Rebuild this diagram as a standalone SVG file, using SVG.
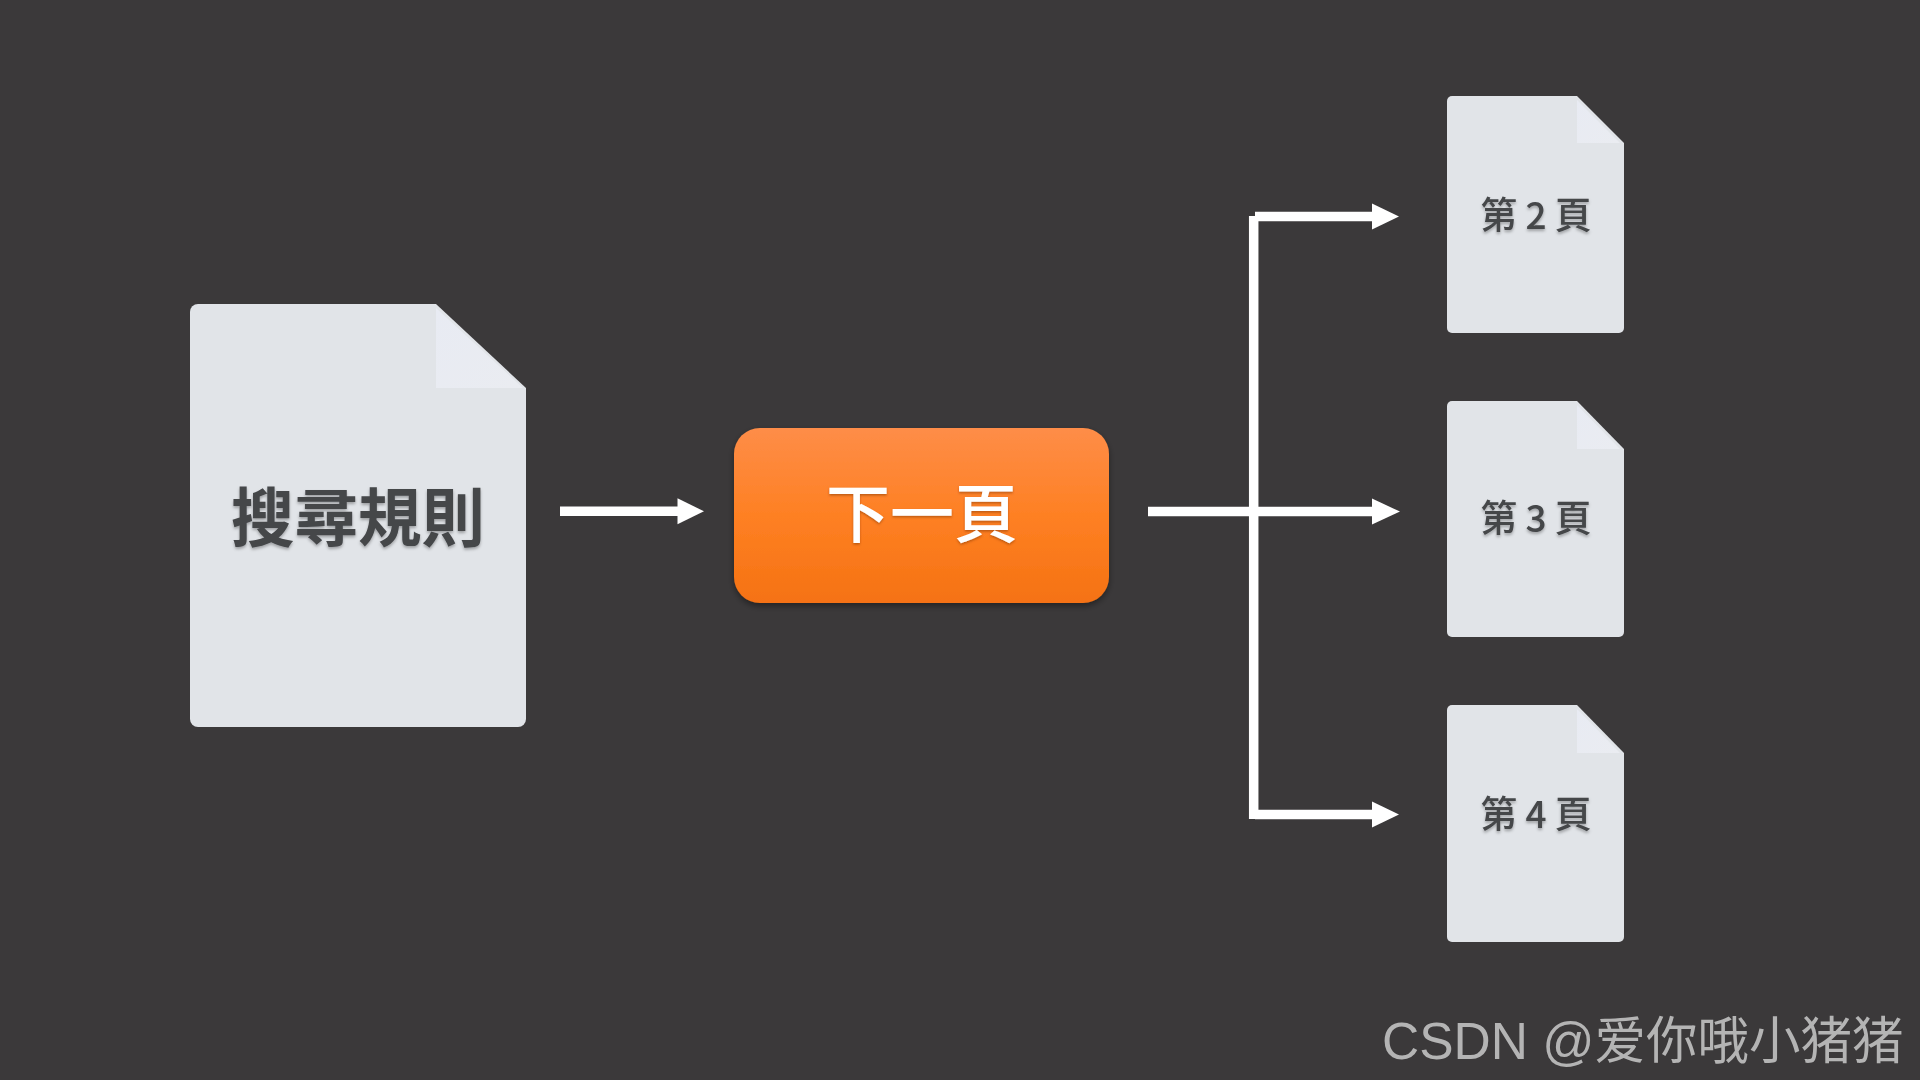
<svg xmlns="http://www.w3.org/2000/svg" width="1920" height="1080" viewBox="0 0 1920 1080">
<style>
.cjk{font-family:"Noto Sans CJK TC","Noto Sans CJK SC",sans-serif;text-anchor:middle}
.big{font-size:63.500px;font-weight:700;fill:#45474a;filter:url(#ts)}
.small{font-size:37px;font-weight:500;fill:#45474a;filter:url(#ts)}
.btn{font-size:64px;font-weight:500;fill:#fff;filter:url(#ts2)}
.wire{fill:none;stroke:#fff;stroke-width:9.500}
.page{fill:#e1e4e8}
.fold{fill:url(#foldg)}
</style>
<defs>
<linearGradient id="foldg" x1="0" y1="0" x2="1" y2="1"><stop offset="0" stop-color="#e8ebf3"/><stop offset="1" stop-color="#eaecf1"/></linearGradient>
<linearGradient id="org" x1="0" y1="0" x2="0" y2="1"><stop offset="0" stop-color="#fe8d48"/><stop offset=".5" stop-color="#fe8023"/><stop offset="1" stop-color="#f57213"/></linearGradient>
<filter id="ts" x="-10%" y="-10%" width="120%" height="130%"><feDropShadow dx="0" dy="2" stdDeviation="1.500" flood-color="#000" flood-opacity=".3"/></filter>
<filter id="ts2" x="-10%" y="-10%" width="120%" height="130%"><feDropShadow dx="0" dy="1.500" stdDeviation="1" flood-color="#7a3000" flood-opacity=".5"/></filter>
<filter id="bs" x="-10%" y="-10%" width="120%" height="125%"><feDropShadow dx="0" dy="3" stdDeviation="3" flood-color="#000" flood-opacity=".4"/></filter>
</defs>
<rect width="1920" height="1080" fill="#3b393a"/>
<g id="connectors">
<path class="wire" d="M560 511.300H678"/>
<path class="wire" d="M1148 511.600H1372"/>
<path class="wire" d="M1253.700 216V819"/>
<path class="wire" d="M1255 216.600H1372"/>
<path class="wire" d="M1255 814.600H1372"/>
<path fill="#fff" d="M677.500 498.300L704 511.300L677.500 524.300Z"/>
<path fill="#fff" d="M1372 498.600L1400 511.600L1372 524.600Z"/>
<path fill="#fff" d="M1372 203.600L1399 216.600L1372 229.600Z"/>
<path fill="#fff" d="M1372 801.600L1399 814.600L1372 827.600Z"/>
</g>
<g id="node-search">
<path class="page" d="M198 304H436L526 388V719a8 8 0 0 1-8 8H198a8 8 0 0 1-8-8V312a8 8 0 0 1 8-8Z"/>
<path class="fold" d="M436 308L523 388H436Z"/>
<text class="cjk big" x="358" y="541">搜尋規則</text>
</g>
<g id="node-next">
<rect x="734" y="428" width="375" height="175" rx="26" fill="url(#org)" filter="url(#bs)"/>
<text class="cjk btn" x="922" y="537">下一頁</text>
</g>
<g id="node-p2">
<path class="page" d="M1452 96H1577L1624 143V328a5 5 0 0 1-5 5H1452a5 5 0 0 1-5-5V101a5 5 0 0 1 5-5Z"/>
<path class="fold" d="M1577 100L1620 143H1577Z"/>
<text class="cjk small" x="1536" y="229">第 2 頁</text>
</g>
<g id="node-p3">
<path class="page" d="M1452 401H1577L1624 449V632a5 5 0 0 1-5 5H1452a5 5 0 0 1-5-5V406a5 5 0 0 1 5-5Z"/>
<path class="fold" d="M1577 405L1620 449H1577Z"/>
<text class="cjk small" x="1536" y="532">第 3 頁</text>
</g>
<g id="node-p4">
<path class="page" d="M1452 705H1577L1624 753V937a5 5 0 0 1-5 5H1452a5 5 0 0 1-5-5V710a5 5 0 0 1 5-5Z"/>
<path class="fold" d="M1577 709L1620 753H1577Z"/>
<text class="cjk small" x="1536" y="828">第 4 頁</text>
</g>
<text id="watermark" x="1382" y="1059" font-size="51.500" fill="#b4b4b4" font-family="'Liberation Sans','Noto Sans CJK SC',sans-serif">CSDN @爱你哦小猪猪</text>
</svg>
